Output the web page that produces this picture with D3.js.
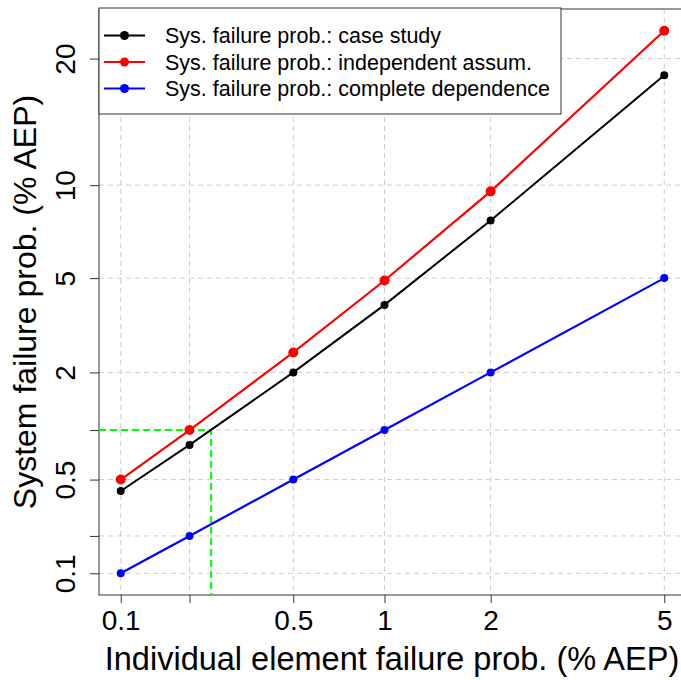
<!DOCTYPE html>
<html>
<head>
<meta charset="utf-8">
<script src="https://cdn.jsdelivr.net/npm/d3@7"></script>
<style>
  html, body { margin: 0; padding: 0; background: #fff; }
  svg { display: block; font-family: "Liberation Sans", Arial, Helvetica, sans-serif; }
</style>
</head>
<body>
<div id="chart"></div>
<script>
// values, in % AEP
const elementProb = [0.1, 0.2, 0.5, 1, 2, 5];
const caseStudy = [0.42, 0.82, 2.0, 3.95, 7.85, 18.5];
const independent = [0.5, 1.0, 2.48, 4.9, 9.6, 22.6];
const completeDep = [0.1, 0.2, 0.5, 1, 2, 5];

const xTicks = [0.1, 0.2, 0.5, 1, 2, 5];
const xTickLabels = ['0.1', '', '0.5', '1', '2', '5'];
const yTicks = [0.1, 0.2, 0.5, 1, 2, 5, 10, 20];
const yTickLabels = ['0.1', '', '0.5', '', '2', '5', '10', '20'];

const seriesNames = [
  'Sys. failure prob.: case study',
  'Sys. failure prob.: independent assum.',
  'Sys. failure prob.: complete dependence'
];
const seriesColors = ['#000000', '#ff0000', '#0000ff'];

// threshold shown with the green dashes
const thresholdX = 0.245;
const thresholdY = 1;

const width = 681;
const height = 680;
const plot = { left: 99, right: 686, top: 9, bottom: 595 };

// the axes are drawn on a Gumbel reduced variate of the probability
const gumbel = (v) => -Math.log(-Math.log(v / 100));

// R style 4% padding round the data range
function padded(values) {
  const [lo, hi] = d3.extent(values.map(gumbel));
  const pad = (hi - lo) * 0.04;
  return [lo - pad, hi + pad];
}

const xs = d3.scaleLinear()
  .domain(padded(elementProb))
  .range([plot.left, plot.right]);
const ys = d3.scaleLinear()
  .domain(padded([].concat(caseStudy, independent, completeDep)))
  .range([plot.bottom, plot.top]);
const x = (v) => xs(gumbel(v));
const y = (v) => ys(gumbel(v));

const svg = d3.select('#chart').append('svg')
  .attr('width', width)
  .attr('height', height);

// grid
const grid = svg.append('g')
  .attr('stroke', '#cccccc')
  .attr('stroke-width', 1)
  .attr('stroke-dasharray', '5,4');
grid.selectAll('.gx').data(xTicks).join('line')
  .attr('x1', x).attr('x2', x)
  .attr('y1', plot.top).attr('y2', plot.bottom);
grid.selectAll('.gy').data(yTicks).join('line')
  .attr('y1', y).attr('y2', y)
  .attr('x1', plot.left).attr('x2', plot.right);

// axes
const xAxis = d3.axisBottom(xs)
  .tickValues(xTicks.map(gumbel))
  .tickSize(8)
  .tickPadding(4)
  .tickFormat((d, i) => xTickLabels[i]);
const gx = svg.append('g')
  .attr('transform', `translate(0,${plot.bottom})`)
  .call(xAxis);
gx.select('.domain').remove();
gx.selectAll('.tick line').attr('stroke', '#333');
gx.selectAll('.tick text')
  .attr('fill', '#000')
  .attr('font-size', 28)
  .attr('font-family', null)
  .attr('dy', null)
  .attr('y', 35);

const yAxis = d3.axisLeft(ys)
  .tickValues(yTicks.map(gumbel))
  .tickSize(9)
  .tickFormat((d, i) => yTickLabels[i]);
const gy = svg.append('g')
  .attr('transform', `translate(${plot.left},0)`)
  .call(yAxis);
gy.select('.domain').remove();
gy.selectAll('.tick line').attr('stroke', '#333');
gy.selectAll('.tick text')
  .attr('fill', '#000')
  .attr('font-size', 28)
  .attr('font-family', null)
  .attr('x', null)
  .attr('dy', null)
  .attr('text-anchor', 'middle')
  .attr('transform', 'translate(-24,0) rotate(-90)');

// plot box
svg.append('rect')
  .attr('x', plot.left).attr('y', plot.top)
  .attr('width', plot.right - plot.left)
  .attr('height', plot.bottom - plot.top)
  .attr('fill', 'none')
  .attr('stroke', '#333')
  .attr('stroke-width', 1);

// threshold dashes
svg.append('path')
  .attr('d', d3.line()([
    [plot.left, y(thresholdY)],
    [x(thresholdX), y(thresholdY)],
    [x(thresholdX), plot.bottom]
  ]))
  .attr('fill', 'none')
  .attr('stroke', '#00ff00')
  .attr('stroke-width', 2)
  .attr('stroke-dasharray', '7,4');

// series
const series = [caseStudy, independent, completeDep];
const radii = [4, 5, 4];
const widths = [2, 2.2, 2.2];
const line = d3.line()
  .x((d, i) => x(elementProb[i]))
  .y((d) => y(d));

series.forEach((values, k) => {
  svg.append('path')
    .datum(values)
    .attr('d', line)
    .attr('fill', 'none')
    .attr('stroke', seriesColors[k])
    .attr('stroke-width', widths[k]);
  svg.append('g').selectAll('circle').data(values).join('circle')
    .attr('cx', (d, i) => x(elementProb[i]))
    .attr('cy', (d) => y(d))
    .attr('r', radii[k])
    .attr('fill', seriesColors[k]);
});

// legend
const legend = svg.append('g');
legend.append('rect')
  .attr('x', plot.left).attr('y', plot.top - 1)
  .attr('width', 462).attr('height', 106)
  .attr('fill', '#fff')
  .attr('stroke', '#333')
  .attr('stroke-width', 1);
seriesNames.forEach((name, k) => {
  const cy = 35.5 + k * 26.5;
  legend.append('line')
    .attr('x1', 104).attr('x2', 145)
    .attr('y1', cy).attr('y2', cy)
    .attr('stroke', seriesColors[k])
    .attr('stroke-width', 2);
  legend.append('circle')
    .attr('cx', 124.5).attr('cy', cy)
    .attr('r', 4.5)
    .attr('fill', seriesColors[k]);
  legend.append('text')
    .attr('x', 165).attr('y', cy + 7.5)
    .attr('font-size', 21.5)
    .attr('fill', '#000')
    .text(name);
});

// axis titles
svg.append('text')
  .attr('x', 392)
  .attr('y', 670)
  .attr('text-anchor', 'middle')
  .attr('font-size', 32.5)
  .attr('fill', '#000')
  .text('Individual element failure prob. (% AEP)');

svg.append('text')
  .attr('transform', `translate(36,${(plot.top + plot.bottom) / 2}) rotate(-90)`)
  .attr('text-anchor', 'middle')
  .attr('font-size', 32)
  .attr('fill', '#000')
  .text('System failure prob. (% AEP)');
</script>
</body>
</html>
